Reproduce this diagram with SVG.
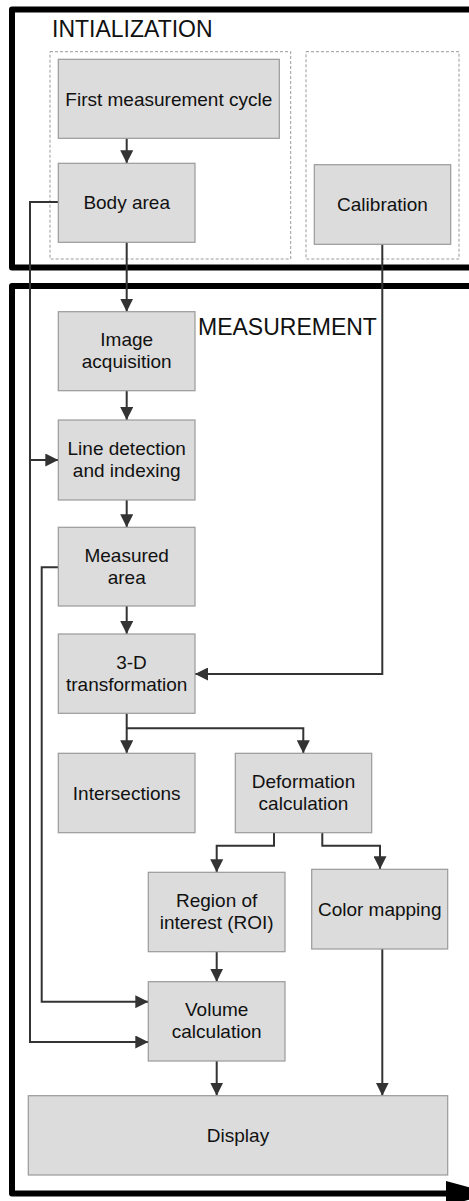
<svg xmlns="http://www.w3.org/2000/svg" width="469" height="1201" viewBox="0 0 469 1201">
<style>
.frame{fill:none;stroke:#000;stroke-width:6;stroke-linejoin:round}
.dash{fill:none;stroke:#9a9a9a;stroke-width:1;stroke-dasharray:3 2}
.box{fill:#dcdcdc;stroke:#9a9a9a;stroke-width:1.2}
.t{font-family:"Liberation Sans",Arial,sans-serif;font-size:19px;fill:#111;text-anchor:middle}
.h{font-family:"Liberation Sans",Arial,sans-serif;font-size:23px;fill:#111}
.c{fill:none;stroke:#333;stroke-width:2}
</style>
<defs>
<marker id="ah" markerUnits="userSpaceOnUse" markerWidth="14" markerHeight="13" refX="13" refY="6.5" orient="auto">
<path d="M0,0 L13,6.5 L0,13 z" fill="#333"/>
</marker>
</defs>
<rect width="469" height="1201" fill="#fff"/>
<g id="frames">
<path class="frame" d="M480,9.5 H12 V267.5 H480"/>
<path class="frame" d="M480,286 H12 V1193.5 H448"/>
<polygon points="446,1181 492,1193.5 446,1206" fill="#000"/>
<rect class="dash" x="50" y="51.7" width="240.7" height="207.3"/>
<rect class="dash" x="306" y="51.7" width="153" height="207.3"/>
<text class="h" x="52" y="37">INTIALIZATION</text>
<text class="h" x="198" y="335">MEASUREMENT</text>
</g>
<g id="connectors">
<path class="c" d="M126.7,138.3 V163.3" marker-end="url(#ah)"/>
<path class="c" d="M126.7,242.3 V311.7" marker-end="url(#ah)"/>
<path class="c" d="M58.3,202 H30 V1042 H148.3" marker-end="url(#ah)"/>
<path class="c" d="M30,460 H58.3" marker-end="url(#ah)"/>
<path class="c" d="M126.7,390.7 V420" marker-end="url(#ah)"/>
<path class="c" d="M126.7,500 V527.3" marker-end="url(#ah)"/>
<path class="c" d="M126.7,606 V634" marker-end="url(#ah)"/>
<path class="c" d="M58.3,567.3 H41.7 V1001.7 H148.3" marker-end="url(#ah)"/>
<path class="c" d="M382.3,244.3 V674 H195" marker-end="url(#ah)"/>
<path class="c" d="M126.7,713.3 V753.3" marker-end="url(#ah)"/>
<path class="c" d="M126.7,728.3 H303.3 V753.3" marker-end="url(#ah)"/>
<path class="c" d="M274,832.7 V845.7 H216.7 V872.3" marker-end="url(#ah)"/>
<path class="c" d="M322.3,832.7 V845.7 H380 V869.3" marker-end="url(#ah)"/>
<path class="c" d="M216.7,951.7 V981.7" marker-end="url(#ah)"/>
<path class="c" d="M216.7,1061 V1095.7" marker-end="url(#ah)"/>
<path class="c" d="M382.3,949 V1095.7" marker-end="url(#ah)"/>
</g>
<g id="first">
<rect class="box" x="58.3" y="59.3" width="221" height="79"/>
<text class="t" x="168.8" y="105.5">First measurement cycle</text>
</g>
<g id="body">
<rect class="box" x="58.3" y="163.3" width="136.7" height="79"/>
<text class="t" x="126.7" y="209.3">Body area</text>
</g>
<g id="calibration">
<rect class="box" x="314.3" y="164.7" width="136.4" height="79.6"/>
<text class="t" x="382.5" y="211">Calibration</text>
</g>
<g id="image">
<rect class="box" x="58.3" y="311.7" width="136.7" height="79"/>
<text class="t" x="126.7" y="346.2">Image</text>
<text class="t" x="126.7" y="368.2">acquisition</text>
</g>
<g id="line">
<rect class="box" x="58.3" y="420" width="136.7" height="80"/>
<text class="t" x="126.7" y="455">Line detection</text>
<text class="t" x="126.7" y="477">and indexing</text>
</g>
<g id="measured">
<rect class="box" x="58.3" y="527.3" width="136.7" height="78.7"/>
<text class="t" x="126.7" y="561.7">Measured</text>
<text class="t" x="126.7" y="583.7">area</text>
</g>
<g id="transform">
<rect class="box" x="58.3" y="634" width="136.7" height="79.3"/>
<text class="t" x="131.5" y="668.7">3-D</text>
<text class="t" x="126.7" y="690.7">transformation</text>
</g>
<g id="intersections">
<rect class="box" x="58.3" y="753.3" width="136.7" height="79.4"/>
<text class="t" x="126.7" y="799.5">Intersections</text>
</g>
<g id="deformation">
<rect class="box" x="235.3" y="753.3" width="136.4" height="79.4"/>
<text class="t" x="303.5" y="788">Deformation</text>
<text class="t" x="303.5" y="810">calculation</text>
</g>
<g id="roi">
<rect class="box" x="148.3" y="872.3" width="136.7" height="79.4"/>
<text class="t" x="216.7" y="906.5">Region of</text>
<text class="t" x="216.7" y="928.5">interest (ROI)</text>
</g>
<g id="color">
<rect class="box" x="311.7" y="869.3" width="136" height="79.7"/>
<text class="t" x="379.7" y="915.5">Color mapping</text>
</g>
<g id="volume">
<rect class="box" x="148.3" y="981.7" width="136.7" height="79.3"/>
<text class="t" x="216.7" y="1016.3">Volume</text>
<text class="t" x="216.7" y="1038.3">calculation</text>
</g>
<g id="display">
<rect class="box" x="28.3" y="1095.7" width="419.4" height="79.3"/>
<text class="t" x="238" y="1141.7">Display</text>
</g>
</svg>
